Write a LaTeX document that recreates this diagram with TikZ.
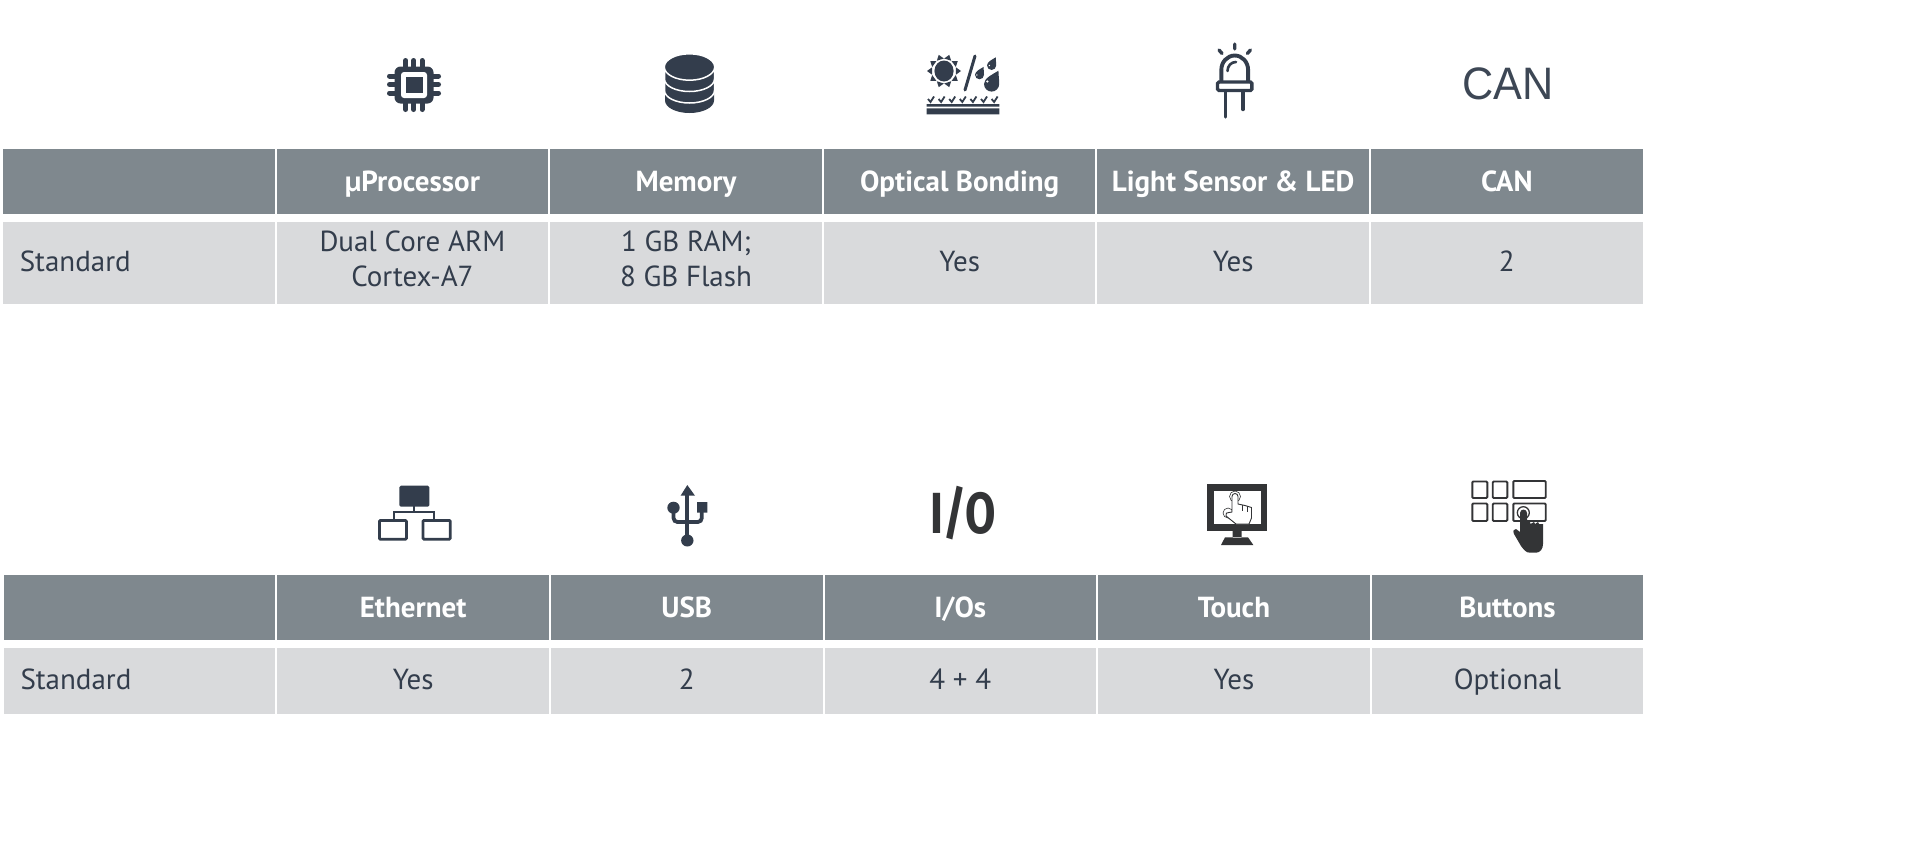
\documentclass[tikz,border=0pt]{standalone}
\usepackage{fontspec}
\setmainfont{PT Sans}
\newfontfamily\canfont{Liberation Sans}
\newfontfamily\iofont{Fira Sans}
\usetikzlibrary{positioning}
\definecolor{headgray}{HTML}{7F888E}
\definecolor{rowgray}{HTML}{D9DADC}
\definecolor{inkblue}{HTML}{333D4C}
\definecolor{inkdark}{HTML}{333436}
% one ray of the sun, angle as argument
\newcommand{\sunray}[1]{\fill[inkblue] (944,71) +(#1:17) -- +(#1+17:12.5) -- +(#1-17:12.5) -- cycle;}
% drop: x, y, radius
\newcommand{\waterdrop}[3]{\fill[inkblue,shift={(#1,#2)},scale=#3] (.9,-1.75) .. controls (.2,-1.3) and (-1,-.8) .. (-1,0) .. controls (-1,.55) and (-.55,1) .. (0,1) .. controls (.55,1) and (1,.55) .. (1,0) .. controls (1,-.6) and (.9,-1.2) .. (.9,-1.75) -- cycle;}
\begin{document}
\begin{tikzpicture}[x=1pt,y=-1pt]
\tikzstyle{headcell} = [fill=headgray, text=white, minimum width=271.6pt, minimum height=65pt, inner sep=0pt, outer sep=0pt, text height=27pt, text depth=6.4pt, font=\fontsize{29}{34}\selectfont\bfseries]
\tikzstyle{bodycell} = [fill=rowgray, text=inkblue, minimum width=271.6pt, inner sep=0pt, outer sep=0pt, align=center, execute at begin node={\rule{0pt}{26pt}}, execute at end node={\rule[-8pt]{0pt}{8pt}}, font=\fontsize{29}{34.5}\selectfont]
\tikzstyle{tallrow} = [minimum height=81.5pt]
\tikzstyle{lowrow} = [minimum height=66pt]
\tikzstyle{namecell} = [text width=238pt, align=left]
\useasboundingbox (0,0) rectangle (1918,857);
% upper table
\node[headcell, anchor=north west] (ha0) at (3,149) {};
\node[headcell, right=2pt of ha0] (ha1) {µProcessor};
\node[headcell, right=2pt of ha1] (ha2) {Memory};
\node[headcell, right=2pt of ha2] (ha3) {Optical Bonding};
\node[headcell, right=2pt of ha3] (ha4) {Light Sensor \& LED};
\node[headcell, right=2pt of ha4] (ha5) {CAN};
\node[bodycell, tallrow, namecell, below=8pt of ha0] (ra0) {Standard};
\node[bodycell, tallrow, below=8pt of ha1] (ra1) {Dual Core ARM\\Cortex-A7};
\node[bodycell, tallrow, below=8pt of ha2] (ra2) {1 GB RAM;\\8 GB Flash};
\node[bodycell, tallrow, below=8pt of ha3] (ra3) {Yes};
\node[bodycell, tallrow, below=8pt of ha4] (ra4) {Yes};
\node[bodycell, tallrow, below=8pt of ha5] (ra5) {2};
% lower table
\node[headcell, anchor=north west] (hb0) at (3.7,575) {};
\node[headcell, right=2pt of hb0] (hb1) {Ethernet};
\node[headcell, right=2pt of hb1] (hb2) {USB};
\node[headcell, right=2pt of hb2] (hb3) {I/Os};
\node[headcell, right=2pt of hb3] (hb4) {Touch};
\node[headcell, right=2pt of hb4] (hb5) {Buttons};
\node[bodycell, lowrow, namecell, below=7.5pt of hb0] (rb0) {Standard};
\node[bodycell, lowrow, below=7.5pt of hb1] (rb1) {Yes};
\node[bodycell, lowrow, below=7.5pt of hb2] (rb2) {2};
\node[bodycell, lowrow, below=7.5pt of hb3] (rb3) {4 + 4};
\node[bodycell, lowrow, below=7.5pt of hb4] (rb4) {Yes};
\node[bodycell, lowrow, below=7.5pt of hb5] (rb5) {Optional};
% chip
\fill[inkblue, rounded corners=6pt] (394.5,66.5) rectangle (433.5,103.5);
\fill[white, rounded corners=3pt] (401,72) rectangle (427,98);
\fill[inkblue] (406,77) rectangle (423,93);
\draw[inkblue, line width=5pt, line cap=round] (405.6,60.5) -- (405.6,68) (413.8,60.5) -- (413.8,68) (422,60.5) -- (422,68)
    (405.6,102) -- (405.6,109.5) (413.8,102) -- (413.8,109.5) (422,102) -- (422,109.5)
    (389.5,76) -- (396,76) (389.5,84.5) -- (396,84.5) (389.5,93) -- (396,93)
    (432,76) -- (438.5,76) (432,84.5) -- (438.5,84.5) (432,93) -- (438.5,93);
% database
\fill[inkblue] (665,90) -- (665,100.5) arc (180:0:24.5 and 12.5) -- (714,90) -- cycle;
\fill[inkblue, draw=white, line width=1.5pt] (664.5,75) -- (664.5,90.5) arc (180:0:25 and 12.5) -- (714.5,75) -- cycle;
\fill[inkblue, draw=white, line width=1.5pt] (664.5,65) -- (664.5,79) arc (180:0:25 and 12.5) -- (714.5,65) -- cycle;
\fill[inkblue, draw=white, line width=1.5pt] (689.5,67) ellipse (25.2 and 13.2);
% sun, rain and bonded layers
\fill[inkblue] (944,71) ellipse (9.6 and 10.5);
\sunray{0} \sunray{36} \sunray{72} \sunray{108} \sunray{144} \sunray{180} \sunray{216} \sunray{252} \sunray{288} \sunray{324}
\draw[inkblue, line width=3pt, line cap=round] (975,56) -- (965,90);
\waterdrop{991.6}{65.4}{4.6}
\waterdrop{979.5}{74.8}{4.5}
\waterdrop{991.6}{84}{7.6}
\fill[white] (987.4,81.5) circle (1.2) (976.8,75) circle (.8) (989.4,65.5) circle (.8);
\draw[inkblue, line width=1.8pt] (928,99) -- (930.5,102) -- (934,96.5)
    (938.6,99) -- (941.1,102) -- (944.6,96.5) (949.2,99) -- (951.7,102) -- (955.2,96.5)
    (959.8,99) -- (962.3,102) -- (965.8,96.5) (970.4,99) -- (972.9,102) -- (976.4,96.5)
    (981,99) -- (983.5,102) -- (987,96.5) (991.6,99) -- (994.1,102) -- (997.6,96.5);
\fill[inkblue] (926.6,104) rectangle (999.4,106.7) (926.6,108.3) rectangle (999.4,114.3);
% LED
\draw[inkblue, line width=3.4pt, line cap=round] (1234.7,44) -- (1234.7,49) (1219,50) -- (1222,53.5) (1250.4,50) -- (1247.4,53.5);
\draw[inkblue, line width=3.9pt] (1221.3,81) -- (1221.3,70) arc (180:360:13.4 and 14.5) -- (1248.1,81);
\draw[inkblue, line width=2.6pt, line cap=round] (1227.5,71) .. controls (1227.5,66) and (1231,62) .. (1236,62);
\draw[inkblue, line width=3.4pt, rounded corners=1.5pt] (1217.5,82) rectangle (1251.9,90.5);
\draw[inkblue, line width=3.4pt, line cap=round] (1225.7,91) -- (1225.7,117) (1243,91) -- (1243,109.5);
\node[text=inkblue!95!white, inner sep=0pt, xscale=.95, font=\canfont\fontsize{45.5}{50}\selectfont] (canlabel) at (1508,84) {CAN};
% network
\fill[inkblue, rounded corners=1.5pt] (399.4,485.7) rectangle (429.3,506.7);
\draw[inkblue, line width=2.2pt] (414,506) -- (414,512.3) (394,519) -- (394,512.3) -- (433.8,512.3) -- (433.8,519);
\draw[inkblue, line width=2.8pt, rounded corners=1pt] (379.4,520.4) rectangle (406.4,539.2) (423,520.4) rectangle (450.3,539.2);
% usb
\fill[inkblue] (687.3,485) -- (695,495.7) -- (680.6,495.7) -- cycle;
\draw[inkblue, line width=3.8pt] (687.3,494) -- (687.3,538);
\draw[inkblue, line width=3.8pt, rounded corners=4pt] (673.5,508) -- (673.5,522) -- (701.8,522) -- (701.8,508);
\fill[inkblue] (687.3,540.5) ellipse (6.2 and 6) (673.5,507.7) ellipse (6.2 and 6) (697,502) rectangle (707.4,512.7);
\node[text=inkdark, inner sep=0pt, xscale=.76, font=\iofont\fontsize{58}{62}\selectfont\bfseries] (iolabel) at (963,513.5) {I/O};
% monitor with touching hand
\fill[inkdark] (1207.3,484.3) rectangle (1266.7,530.7);
\fill[white] (1214,491) rectangle (1260.7,524.3);
\fill[inkdark] (1232.7,530) rectangle (1241.7,538) (1225,537.3) -- (1248,537.3) -- (1253.3,545) -- (1221,545) -- cycle;
\draw[inkdark, line width=.6pt] (1235,496.5) circle (5.5) (1228,513) circle (5);
\draw[inkdark, line width=.9pt, fill=white] (1232,512) -- (1232,496.5) arc (180:360:3 and 3) -- (1238,504) -- (1245,505.5) -- (1251.5,507.5) -- (1251.5,518) -- (1249,524) -- (1236,524) -- (1226,516) .. controls (1225,514) and (1227,511.5) .. (1229,512.5) -- cycle;
\draw[inkdark, line width=.7pt] (1242,504.5) -- (1242,511) (1247,506) -- (1247,512);
% keypad with pressing hand
\draw[inkdark, line width=1.9pt, rounded corners=1pt] (1472.3,481.5) rectangle (1487.3,498) (1492.7,481.5) rectangle (1507.3,498) (1513.3,481) rectangle (1545.7,498)
    (1472.3,503.5) rectangle (1487.3,521) (1492.7,503.5) rectangle (1507.3,521) (1513.3,503.5) rectangle (1545.7,521);
\fill[white] (1523.3,512.7) circle (7.4);
\draw[inkdark, line width=1.3pt] (1523.3,512.7) circle (6);
\fill[inkdark] (1520,513) arc (180:360:3.5 and 3.5) -- (1527,522) -- (1530,522) -- (1530.5,524) -- (1534,522) -- (1535,524) -- (1538,522) -- (1539,524) -- (1543,524) -- (1543,544) .. controls (1543,549) and (1540,552.7) .. (1536,552.7) -- (1530,552.7) .. controls (1526,552.7) and (1524,550) .. (1521,546) -- (1514,534) .. controls (1512.5,531) and (1514,528.5) .. (1516,529) -- (1520,532) -- cycle;
\end{tikzpicture}
\end{document}
